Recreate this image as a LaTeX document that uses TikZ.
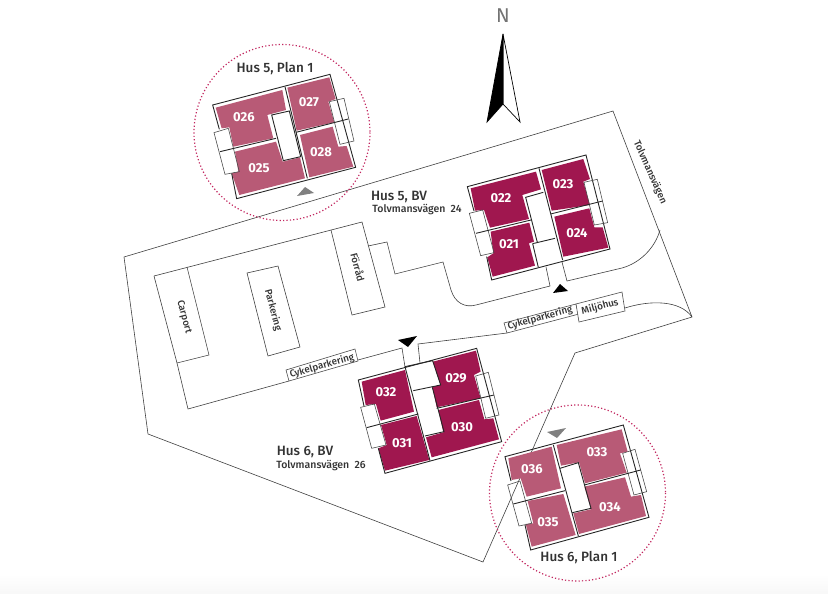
\documentclass[tikz,border=0pt]{standalone}
\usepackage{fontspec}
\setmainfont{Fira Sans}
\newfontfamily\mediumfont{Fira Sans Medium}
\definecolor{bvred}{HTML}{A0174F}
\definecolor{planrose}{HTML}{B85A76}
\definecolor{ringred}{HTML}{C2265F}
\definecolor{labelgrey}{HTML}{333333}
\tikzset{
	wall/.style={line width=0.9pt, color=black!85, line join=miter},
	thinwall/.style={line width=0.6pt, color=black!70},
	siteline/.style={line width=0.6pt, color=black!75},
	unitbv/.style={fill=bvred, draw=none},
	unitplan/.style={fill=planrose, draw=none},
	unitno/.style={text=white, font=\fontsize{13}{13}\selectfont\bfseries},
	househead/.style={text=labelgrey, font=\fontsize{13.5}{14}\mediumfont},
	streetno/.style={text=labelgrey, font=\fontsize{10.5}{11}\mediumfont},
	sitelabel/.style={text=labelgrey, font=\fontsize{9.8}{10}\mediumfont},
	ring/.style={color=ringred, line width=1.2pt, dash pattern=on 1.2pt off 2.2pt},
	zoomed/.style={x=0.3333pt, y=-0.3333pt}
}
\begin{document}
\begin{tikzpicture}[x=1pt, y=-1pt]
	\useasboundingbox (0,0) rectangle (828,594);
	\shade[top color=white, bottom color=black!3] (0,574) rectangle (828,594);

	%%%%% SITE %%%%%
	\draw[siteline] (124,257) -- (613,111) -- (692,317) -- (575,353) -- (483,562) -- (148,434) -- cycle;
	\draw[siteline] (154,276) -- (362,222) -- (385,307) -- (352,315) -- (331,230);
	\draw[siteline] (154,276) -- (177,363) -- (209,355) -- (187,267);
	\draw[siteline] (247,273) -- (278,266) -- (300,347) -- (268,356) -- cycle;
	\draw[siteline] (177,363) -- (188,409) -- (289,381);
	\draw[siteline] (358,360) -- (402,348) -- (405,367);
	\draw[siteline] (420,363) -- (418,344) -- (507,333);
	\draw[siteline] (368,246) -- (387,242) -- (395,274) -- (443,262) -- (451,290) .. controls (455,303) and (465,308) .. (476,305) -- (550,286) -- (546,267);
	\draw[siteline] (562,262) -- (567,281) -- (622,268) .. controls (640,263) and (655,248) .. (660,230);
	\draw[siteline] (625,308) .. controls (650,300) and (680,300) .. (692,317);

	%%%%% LABEL BOXES %%%%%
	\draw[thinwall, fill=white] (286,370) -- (355,349) -- (358,361) -- (289,381) -- cycle;
	\draw[thinwall, fill=white] (504,323) -- (576,304) -- (579,314) -- (507,333) -- cycle;
	\draw[thinwall, fill=white] (576,304) -- (622,292) -- (625,311) -- (579,322) -- cycle;
	\node[sitelabel, rotate=-75] (carport) at (184,317) {Carport};
	\node[sitelabel, rotate=-75] (parkering) at (273,310) {Parkering};
	\node[sitelabel, rotate=-75] (forrad) at (358,267) {Förråd};
	\node[sitelabel, rotate=16] (cykelwest) at (322,366) {Cykelparkering};
	\node[sitelabel, rotate=15] (cykeleast) at (540,318) {Cykelparkering};
	\node[sitelabel, rotate=15] (miljohus) at (600,307) {Miljöhus};
	\node[sitelabel, rotate=-66] (vagen) at (650,172) {Tolvmansvägen};

	%%%%% NORTH %%%%%
	\node[text=black!55, font=\fontsize{20}{20}\selectfont] (north) at (503,16) {N};
	\draw[line width=0.7pt, fill=white] (503,34) -- (520,122) -- (503,104) -- cycle;
	\draw[line width=0.7pt, fill=black] (503,34) -- (487,122) -- (503,104) -- cycle;

	%%%%% ENTRANCES %%%%%
	\fill[black] (553,293) -- (560,284) -- (568,291) -- cycle;
	\fill[black] (398,340) -- (417,336) -- (408,347) -- cycle;
	\fill[black!50] (297,196) -- (305,187) -- (314,193) -- cycle;
	\fill[black!50] (547,432) -- (566,428) -- (557,438) -- cycle;

	%%%%% HUS 5, PLAN 1 %%%%%
	\draw[ring] (282,132.5) circle (88);
	\node[househead] (headA) at (275,69) {Hus 5, Plan 1};
	\begin{scope}[shift={(190,40)}, zoomed]
		\fill[unitplan] (77,203) -- (277,150) -- (288,210) -- (232,225) -- (250,295) -- (130,320) -- (118,262) -- (95,265) -- cycle;
		\fill[unitplan] (292,143) -- (418,112) -- (437,177) -- (415,185) -- (433,247) -- (320,272) -- cycle;
		\fill[unitplan] (330,285) -- (428,260) -- (445,320) -- (470,318) -- (490,380) -- (358,412) -- cycle;
		\fill[unitplan] (135,335) -- (258,305) -- (278,365) -- (330,352) -- (345,415) -- (148,465) -- (125,400) -- (145,395) -- cycle;
		\draw[wall] (88,268) -- (68,195) -- (420,103) -- (497,382) -- (140,476) -- (125,400);
		\draw[thinwall] (72,278) -- (115,265) -- (148,395) -- (105,403) -- cycle;
		\draw[thinwall] (418,185) -- (462,175) -- (492,303) -- (450,313) -- cycle;
		\draw[wall] (90,335) -- (258,295) (318,277) -- (475,237);
		\draw[wall] (285,140) -- (352,415);
		\draw[wall] (245,225) -- (298,213) -- (332,350) -- (280,362) -- cycle;
	\end{scope}
	\node[unitno] (u026) at (244,117) {026};
	\node[unitno] (u027) at (309,102) {027};
	\node[unitno] (u028) at (321,152) {028};
	\node[unitno] (u025) at (259,168) {025};

	%%%%% HUS 5, BV %%%%%
	\node[househead] (headB) at (399,197) {Hus 5, BV};
	\node[streetno] (streetB) at (417,210) {Tolvmansvägen\ \ 24};
	\begin{scope}[shift={(460,145)}, zoomed]
		\fill[unitbv] (32,130) -- (228,80) -- (243,133) -- (187,150) -- (207,222) -- (90,248) -- (72,195) -- (45,197) -- cycle;
		\fill[unitbv] (92,260) -- (208,233) -- (222,290) -- (207,295) -- (225,362) -- (98,395) -- (82,337) -- (100,325) -- cycle;
		\fill[unitbv] (245,75) -- (370,42) -- (390,102) -- (370,110) -- (390,180) -- (275,197) -- cycle;
		\fill[unitbv] (283,215) -- (388,190) -- (403,247) -- (428,247) -- (445,308) -- (310,335) -- cycle;
		\draw[wall] (42,198) -- (22,125) -- (378,30) -- (450,312) -- (95,405) -- (80,335);
		\draw[thinwall] (28,205) -- (68,195) -- (102,323) -- (62,332) -- cycle;
		\draw[thinwall] (372,112) -- (412,103) -- (443,233) -- (403,240) -- cycle;
		\draw[wall] (48,265) -- (213,225) (272,207) -- (428,168);
		\draw[wall] (237,70) -- (308,345);
		\draw[wall] (250,142) -- (197,157) -- (232,292) (218,296) -- (285,280) (218,296) -- (235,367);
	\end{scope}
	\node[unitno] (u022) at (501,198) {022};
	\node[unitno] (u023) at (563,184) {023};
	\node[unitno] (u021) at (509,244) {021};
	\node[unitno] (u024) at (577,233) {024};

	%%%%% HUS 6, BV %%%%%
	\node[househead] (headC) at (305,452) {Hus 6, BV};
	\node[streetno] (streetC) at (321,466) {Tolvmansvägen\ \ 26};
	\begin{scope}[shift={(350,330)}, zoomed]
		\fill[unitbv] (35,155) -- (165,120) -- (192,245) -- (92,272) -- (78,222) -- (47,225) -- cycle;
		\fill[unitbv] (248,95) -- (378,62) -- (392,125) -- (372,135) -- (392,205) -- (260,232) -- (247,170) -- (272,165) -- cycle;
		\fill[unitbv] (93,285) -- (200,258) -- (238,390) -- (105,422) -- (85,355) -- (110,345) -- cycle;
		\fill[unitbv] (265,240) -- (387,210) -- (403,268) -- (430,265) -- (447,328) -- (245,382) -- (228,322) -- (280,307) -- cycle;
		\draw[wall] (42,228) -- (25,150) -- (380,55) -- (455,335) -- (105,430) -- (85,355);
		\draw[thinwall] (32,232) -- (73,222) -- (108,345) -- (65,355) -- cycle;
		\draw[thinwall] (377,138) -- (415,127) -- (447,255) -- (407,265) -- cycle;
		\draw[wall] (50,293) -- (205,252) (260,235) -- (432,195);
		\draw[wall] (165,110) -- (240,392);
		\draw[wall] (165,110) -- (248,92) -- (272,165) -- (190,182);
		\draw[wall] (247,172) -- (282,305) -- (225,318);
	\end{scope}
	\node[unitno] (u032) at (386,392) {032};
	\node[unitno] (u029) at (456,378) {029};
	\node[unitno] (u031) at (402,443) {031};
	\node[unitno] (u030) at (462,427) {030};

	%%%%% HUS 6, PLAN 1 %%%%%
	\draw[ring] (577.5,493) circle (88);
	\node[househead] (headD) at (579,558) {Hus 6, Plan 1};
	\begin{scope}[shift={(485,400)}, zoomed]
		\fill[unitplan] (70,175) -- (200,140) -- (228,265) -- (125,290) -- (107,235) -- (80,240) -- cycle;
		\fill[unitplan] (215,135) -- (410,88) -- (428,155) -- (405,160) -- (425,218) -- (300,250) -- (282,187) -- (228,197) -- cycle;
		\fill[unitplan] (128,303) -- (235,282) -- (272,405) -- (140,440) -- (122,372) -- (145,370) -- cycle;
		\fill[unitplan] (298,260) -- (420,232) -- (438,290) -- (468,285) -- (483,348) -- (282,402) -- (265,340) -- (318,328) -- cycle;
		\draw[wall] (78,243) -- (60,170) -- (415,75) -- (492,352) -- (137,450) -- (120,375);
		\draw[thinwall] (68,255) -- (105,243) -- (140,370) -- (102,378) -- cycle;
		\draw[thinwall] (413,160) -- (450,148) -- (485,275) -- (447,285) -- cycle;
		\draw[wall] (85,312) -- (240,272) (298,255) -- (467,210);
		\draw[wall] (205,135) -- (280,408);
		\draw[wall] (225,205) -- (280,188) -- (318,325) -- (262,338);
	\end{scope}
	\node[unitno] (u036) at (532,469) {036};
	\node[unitno] (u033) at (597,452) {033};
	\node[unitno] (u035) at (548,522) {035};
	\node[unitno] (u034) at (610,507) {034};
\end{tikzpicture}
\end{document}
